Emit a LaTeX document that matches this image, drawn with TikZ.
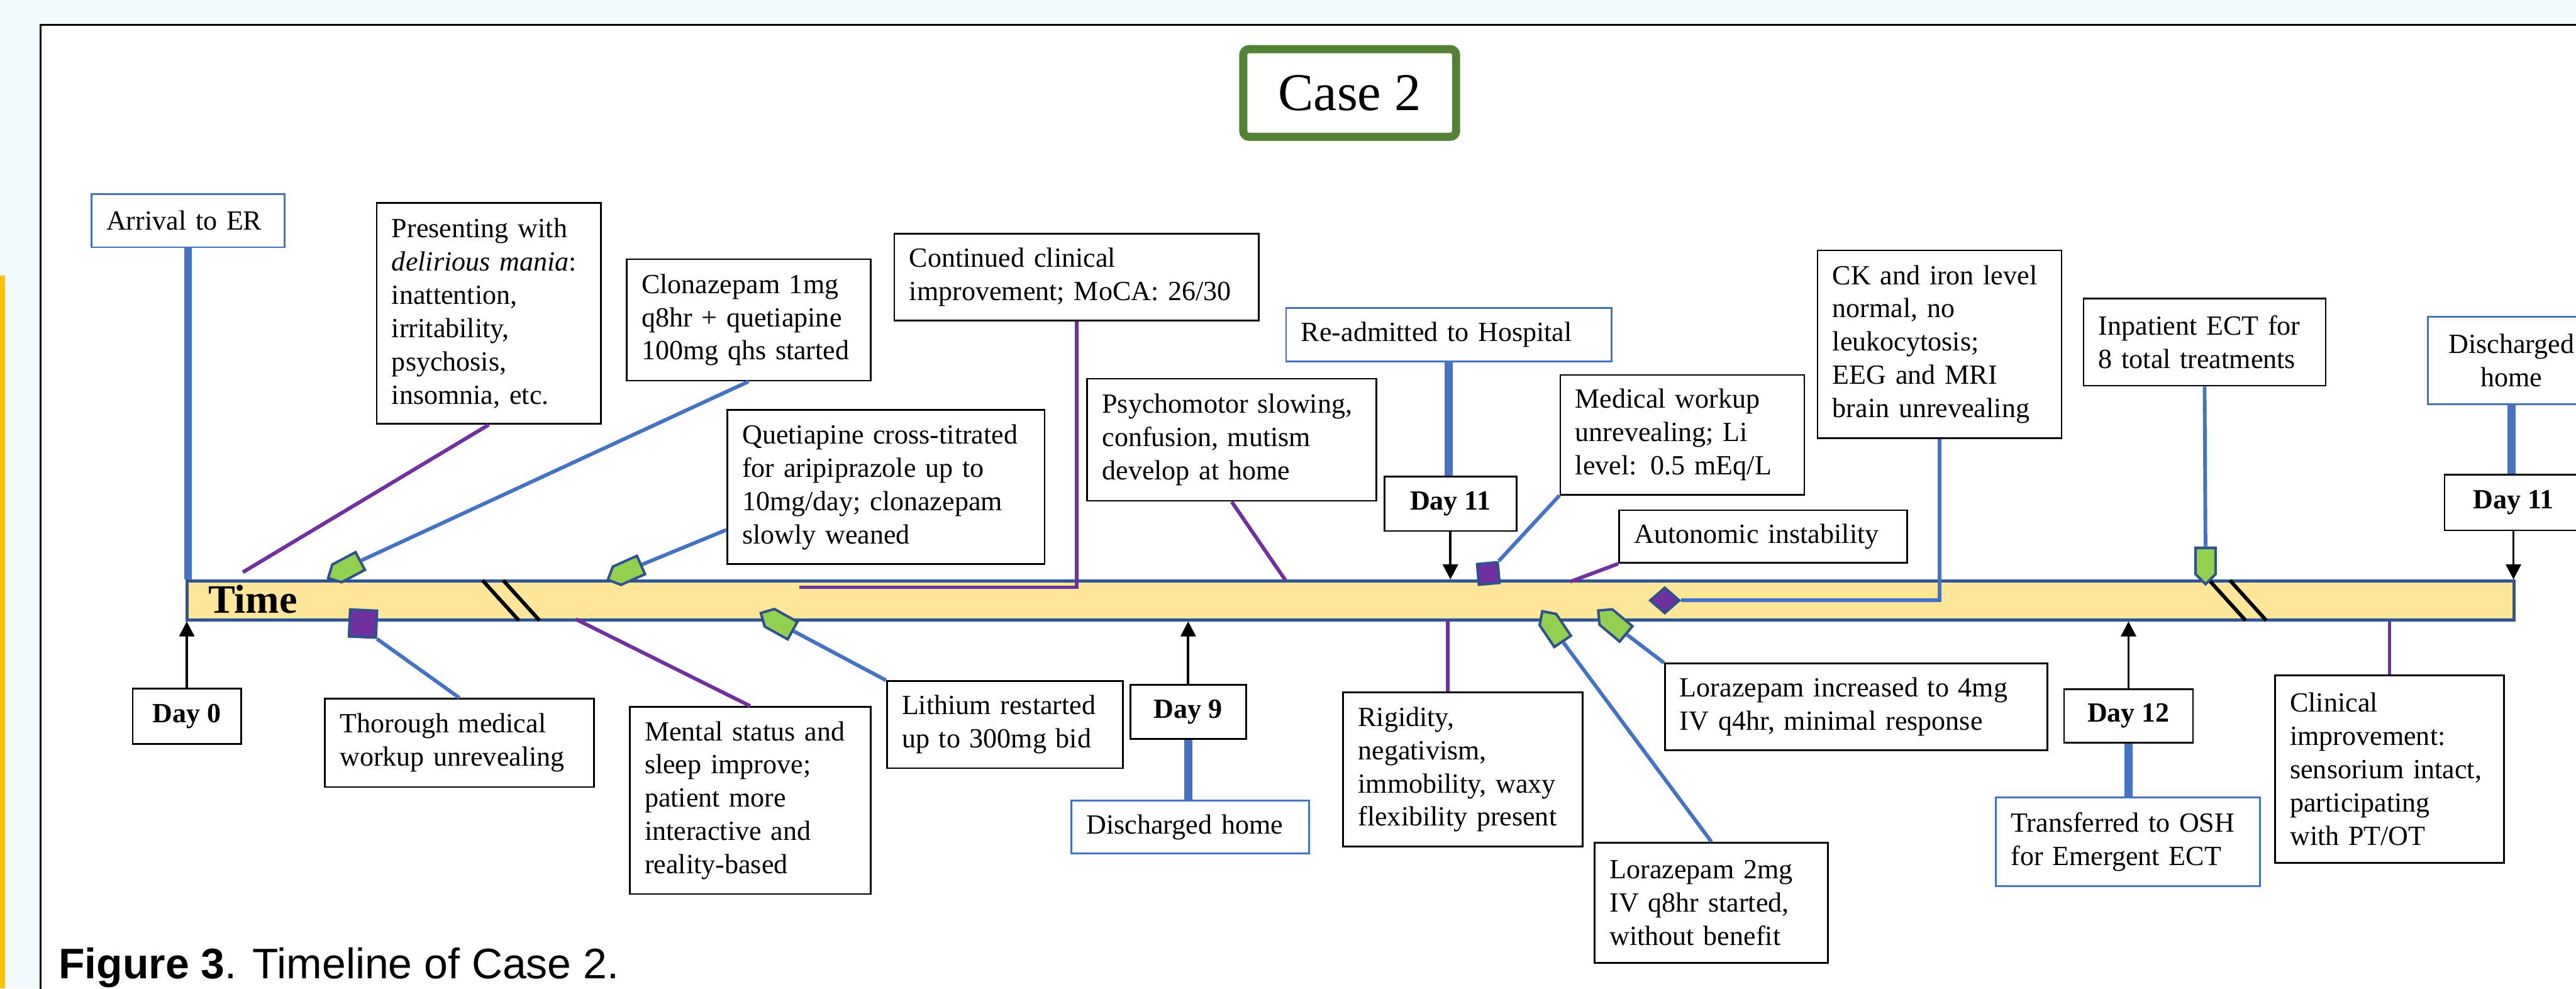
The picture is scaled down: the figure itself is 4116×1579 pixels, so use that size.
\documentclass[tikz,border=0pt]{standalone}
\usepackage{fontspec}
\setmainfont{Liberation Serif}
\setsansfont{Liberation Sans}
\usetikzlibrary{shapes.symbols, shapes.geometric, arrows.meta}

\definecolor{barfill}{HTML}{FFE699}
\definecolor{barline}{HTML}{2F5597}
\definecolor{evblue}{HTML}{4472C4}
\definecolor{evpurple}{HTML}{7030A0}
\definecolor{mkgreen}{HTML}{92D050}
\definecolor{mkline}{HTML}{2F528F}
\definecolor{casegreen}{HTML}{548235}
\definecolor{pagebg}{HTML}{F3FAFD}
\definecolor{stripgold}{HTML}{FFC000}

\newcommand{\pxu}{0.271pt}

\begin{document}
\begin{tikzpicture}[x=0.271pt, y=-0.271pt,
        every node/.style={font=\fontsize{12}{14.4}\selectfont},
        evbox/.code 2 args={%
            \pgfmathsetlengthmacro\evtw{(#1-48)*\pxu}%
            \pgfmathsetlengthmacro\evht{#2*\pxu}%
            \edef\evset{\noexpand\tikzset{text width=\evtw, minimum height=\evht}}\evset
            \tikzset{draw, line width=0.75pt, inner xsep=6.5pt, inner ysep=0pt, align=left}},
        bluebox/.style 2 args={evbox={#1}{#2}, draw=evblue},
        daybox/.style 2 args={draw, line width=0.75pt, inner sep=0pt,
            font=\fontsize{12}{14.4}\selectfont\bfseries,
            minimum width=#1*\pxu, minimum height=#2*\pxu},
        pline/.style={evpurple, line width=1.6pt},
        bline/.style={evblue, line width=1.6pt},
        bthick/.style={evblue, line width=3.5pt},
        dayarrow/.style={-{Triangle[length=6.5pt, width=6.5pt]}, line width=1pt},
        mkpent/.style={signal, signal to=west, draw=mkline, fill=mkgreen, line width=1.1pt,
            inner sep=0pt, minimum width=58*\pxu, minimum height=32*\pxu},
        mksq/.style={rectangle, draw=mkline, fill=evpurple, line width=1.1pt,
            inner sep=0pt, minimum size=#1*\pxu},
        mkdia/.style={diamond, draw=mkline, fill=evpurple, line width=1.1pt,
            inner sep=0pt, minimum width=48*\pxu, minimum height=42*\pxu}]

    \useasboundingbox (0,0) rectangle (4116,1579);
    \clip (0,0) rectangle (4116,1579);
    \fill[pagebg] (0,0) rectangle (4116,1579);
    \fill[stripgold] (0,440) rectangle (8,1579);
    \draw[line width=0.75pt, fill=white] (65,40) rectangle (4300,1700);

    % title
    \node[draw=casegreen, line width=3.5pt, rounded corners=2.5pt, fill=white, inner sep=0pt,
        minimum width=340*\pxu, minimum height=140*\pxu,
        font=\fontsize{23}{27}\selectfont] (casettl) at (2156.5,148.5) {Case 2};

    % time bar
    \node[draw=barline, fill=barfill, line width=1.35pt, inner sep=0pt,
        minimum width=3718*\pxu, minimum height=62*\pxu] (bar) at (2158,959) {};
    \node[anchor=base west, inner sep=0pt, font=\fontsize{17.5}{21}\selectfont\bfseries] (timelbl) at (332,979) {Time};
    \foreach \bx in {771,804,3530,3563}
        \draw[line width=1.6pt] (\bx,927) -- ++(58,64);

    % events above the bar
    \node[bluebox={309}{85}] (arrival) at (300.5,352.5) {Arrival to ER};
    \node[evbox={358}{353}] (present) at (781,500.5) {Presenting with\\ \textit{delirious mania}:\\ inattention,\\ irritability,\\ psychosis,\\ insomnia, etc.};
    \node[evbox={390}{194}] (clon) at (1196,511) {Clonazepam 1mg\\ q8hr + quetiapine\\ 100mg qhs started};
    \node[evbox={507}{246}] (quet) at (1415.5,778) {Quetiapine cross-titrated\\ for aripiprazole up to\\ 10mg/day; clonazepam\\ slowly weaned};
    \node[evbox={582}{139}] (cont) at (1720,442.5) {Continued clinical\\ improvement; MoCA: 26/30};
    \node[evbox={462}{195}] (psych) at (1968,702.5) {Psychomotor slowing,\\ confusion, mutism\\ develop at home};
    \node[bluebox={520}{85}] (readm) at (2315,534.5) {Re-admitted to Hospital};
    \node[daybox={211}{87}] (day11a) at (2317.5,804.5) {Day 11};
    \node[evbox={390}{191}] (medw) at (2688,694.5) {Medical workup\\ unrevealing; Li\\ level: 0.5 mEq/L};
    \node[evbox={460}{84}] (auton) at (2817,857) {Autonomic instability};
    \node[evbox={390}{300}] (ck) at (3099,550) {CK and iron level\\ normal, no\\ leukocytosis;\\ EEG and MRI\\ brain unrevealing};
    \node[evbox={387}{139}] (ect) at (3522.5,546.5) {Inpatient ECT for\\ 8 total treatments};
    \node[bluebox={268}{140}, align=center] (dish2) at (4013,576) {Discharged\\ home};
    \node[daybox={220}{89}] (day11b) at (4016,802.5) {Day 11};

    % events below the bar
    \node[daybox={173}{88}] (day0) at (298.5,1144) {Day 0};
    \node[evbox={430}{141}] (thor) at (734,1186.5) {Thorough medical\\ workup unrevealing};
    \node[evbox={385}{299}] (mental) at (1198.5,1278.5) {Mental status and\\ sleep improve;\\ patient more\\ interactive and\\ reality-based};
    \node[evbox={377}{139}] (lith) at (1605.5,1157.5) {Lithium restarted\\ up to 300mg bid};
    \node[daybox={185}{86}] (day9) at (1898.5,1137) {Day 9};
    \node[bluebox={380}{84}] (dish1) at (1902,1321) {Discharged home};
    \node[evbox={383}{246}] (rigid) at (2337.5,1229) {Rigidity,\\ negativism,\\ immobility, waxy\\ flexibility present};
    \node[evbox={373}{192}] (lz2) at (2734.5,1442) {Lorazepam 2mg\\ IV q8hr started,\\ without benefit};
    \node[evbox={611}{138}] (lz4) at (2965.5,1129) {Lorazepam increased to 4mg\\ IV q4hr, minimal response};
    \node[daybox={206}{85}] (day12) at (3401,1143.5) {Day 12};
    \node[bluebox={422}{141}] (trans) at (3400,1344.5) {Transferred to OSH\\ for Emergent ECT};
    \node[evbox={366}{299}] (clin) at (3818,1228.5) {Clinical\\ improvement:\\ sensorium intact,\\ participating\\ with PT/OT};

    % purple links
    \coordinate (pa) at (388,914);
    \coordinate (pm) at (920,989);
    \coordinate (pc) at (1277,938);
    \coordinate (pp) at (2054,927);
    \coordinate (pau) at (2509,929);
    \coordinate (pr) at (2313,991);
    \draw[pline] (present.south) -- (pa);
    \draw[pline] (pm) -- (mental.north);
    \draw[pline] (cont.south) |- (pc);
    \draw[pline] (psych.south) -- (pp);
    \draw[pline] (auton.south west) -- (pau);
    \draw[pline] (pr) -- (pr |- rigid.north);
    \draw[pline] (clin.north |- bar.south) -- (clin.north);

    % thick blue links
    \draw[bthick] (arrival.south) -- (arrival.south |- bar.north);
    \draw[bthick] (readm.south) -- (readm.south |- day11a.north);
    \draw[bthick] (dish2.south) -- (dish2.south |- day11b.north);
    \draw[bthick] (day9.south) -- (day9.south |- dish1.north);
    \draw[bthick] (day12.south) -- (day12.south |- trans.north);

    % day arrows
    \draw[dayarrow] (day0.north) -- (day0.north |- bar.south);
    \draw[dayarrow] (day9.north) -- (day9.north |- bar.south);
    \draw[dayarrow] (day12.north) -- (day12.north |- bar.south);
    \draw[dayarrow] (day11a.south) -- (day11a.south |- bar.north);
    \draw[dayarrow] (day11b.south) -- (day11b.south |- bar.north);

    % markers
    \node[mkpent, rotate=28] (m1) at (557,906) {};
    \node[mkpent, rotate=24] (m2) at (1005,911) {};
    \node[mksq=43, rotate=-2.5] (m3) at (580,996) {};
    \node[mkpent, rotate=-29] (m4) at (1248,997) {};
    \node[mksq=33, rotate=5] (m5) at (2378,916) {};
    \node[mkdia] (m6) at (2660,959) {};
    \node[mkpent, rotate=-56] (m7) at (2485,1007) {};
    \node[mkpent, rotate=-40] (m8) at (2582,999) {};
    \node[mkpent, rotate=90] (m9) at (3524,896) {};

    \draw[bline] (clon.south) -- (m1.east);
    \draw[bline] (quet.195.5) -- (m2.east);
    \draw[bline] (m3.south east) -- (thor.north);
    \draw[bline] (m4.east) -- (lith.north west);
    \draw[bline] (m5.north east) -- (medw.south west);
    \draw[bline] (ck.south) |- (m6.east);
    \draw[bline] (m7.east) -- (lz2.north);
    \draw[bline] (m8.east) -- (lz4.north west);
    \draw[bline] (ect.south) -- (m9.east);

    % caption
    \node[anchor=base west, inner sep=0pt, font=\sffamily\fontsize{18.5}{22}\selectfont] (caption) at (93,1563) {\textbf{Figure 3}. Timeline of Case 2.};
\end{tikzpicture}
\end{document}
